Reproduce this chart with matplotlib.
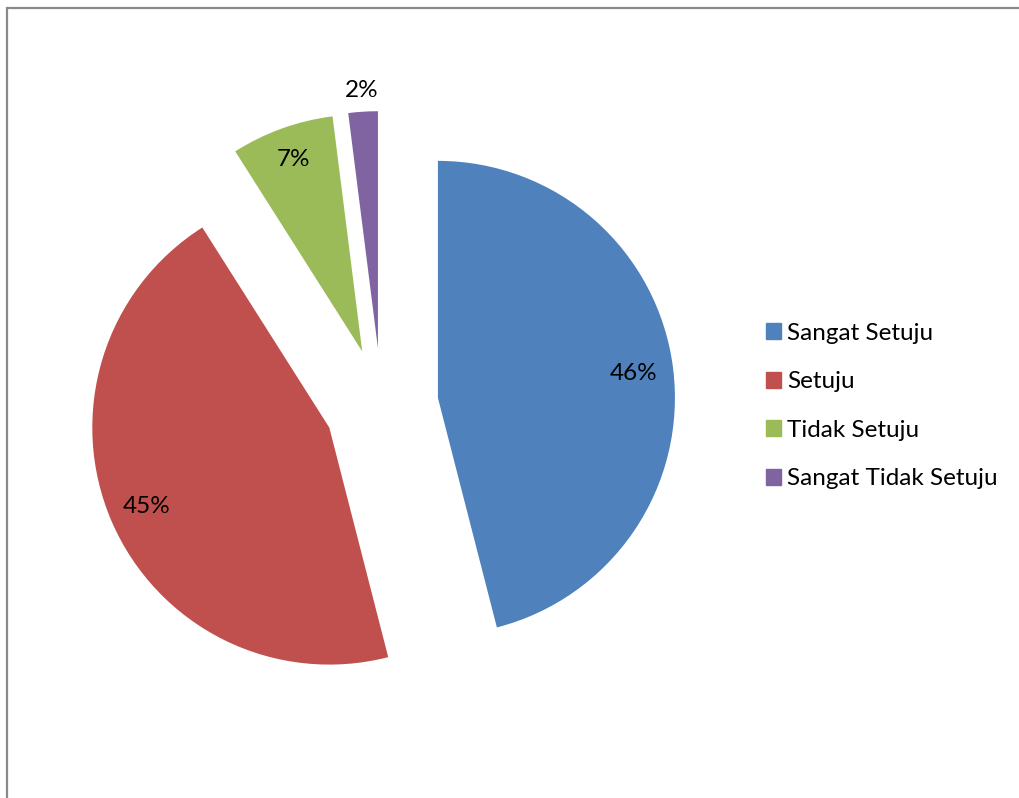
import matplotlib
matplotlib.use("Agg")
import matplotlib.pyplot as plt
import matplotlib.patches as mpatches
import numpy as np

plt.rcParams["font.family"] = ["Lato", "DejaVu Sans"]

# Survey responses (percent)
categories = ["Sangat Setuju", "Setuju", "Tidak Setuju", "Sangat Tidak Setuju"]
values = [46, 45, 7, 2]
colors = ["#4F81BD", "#C0504D", "#9BBB59", "#8064A2"]

W, H, DPI = 1019, 798, 100
R = 237.0            # pie radius in px
CX, CY = 381.5, 405  # pie centre in px (from top-left)

fig = plt.figure(figsize=(W / DPI, H / DPI), dpi=DPI)
ax = fig.add_axes([0, 0, 1, 1])

wedges, _ = ax.pie(values, colors=colors, startangle=90, counterclock=False,
                   explode=[0.24] * len(values), radius=1,
                   wedgeprops=dict(linewidth=0))

# percent labels, distance from the slice apex as fraction of radius
label_dist = [0.83, 0.84, 0.86, 1.09]
for w, v, d in zip(wedges, values, label_dist):
    mid = np.deg2rad((w.theta1 + w.theta2) / 2)
    cx, cy = w.center
    ax.text(cx + d * np.cos(mid), cy + d * np.sin(mid), f"{v}%",
            ha="center", va="center", fontsize=17.5, color="black")

ax.set_xlim(-CX / R, (W - CX) / R)
ax.set_ylim(-(H - CY) / R, CY / R)
ax.set_aspect("equal", adjustable="box")
ax.axis("off")

handles = [mpatches.Patch(color=c, label=l) for c, l in zip(colors, categories)]
fig.legend(handles=handles, loc="center left", bbox_to_anchor=(766 / W, 1 - 406 / H),
           frameon=False, fontsize=17.5, handlelength=0.62, handleheight=0.62,
           handletextpad=0.25, labelspacing=1.13, borderaxespad=0, borderpad=0)

# chart border
border = mpatches.Rectangle((7 / W, -0.05), 1.1, 1 - 7.5 / H + 0.05, transform=fig.transFigure,
                            fill=False, edgecolor="#8a8a8a", linewidth=1.6)
fig.patches.append(border)

fig.savefig("out.png", dpi=DPI)
